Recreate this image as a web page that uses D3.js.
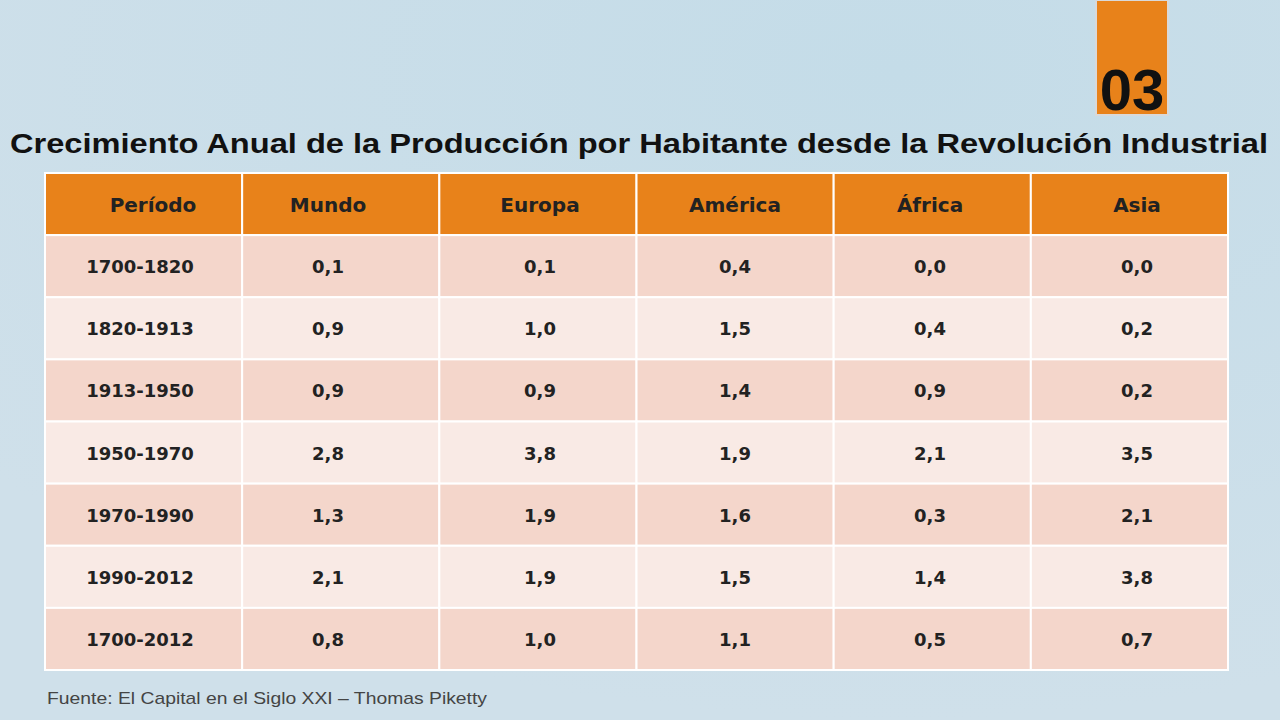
<!DOCTYPE html>
<html><head><meta charset="utf-8">
<script src="https://cdn.jsdelivr.net/npm/d3@7"></script>
<style>body{margin:0;overflow:hidden}</style>
</head><body>
<svg id="c" width="1280" height="720"></svg>
<script>
const headers = ["Período","Mundo","Europa","América","África","Asia"];
const periods = ["1700-1820","1820-1913","1913-1950","1950-1970","1970-1990","1990-2012","1700-2012"];
const mundo   = ["0,1","0,9","0,9","2,8","1,3","2,1","0,8"];
const europa  = ["0,1","1,0","0,9","3,8","1,9","1,9","1,0"];
const america = ["0,4","1,5","1,4","1,9","1,6","1,5","1,1"];
const africa  = ["0,0","0,4","0,9","2,1","0,3","1,4","0,5"];
const asia    = ["0,0","0,2","0,2","3,5","2,1","3,8","0,7"];
const cols = [periods, mundo, europa, america, africa, asia];

const svg = d3.select("#c");
const defs = svg.append("defs");
const g = defs.append("radialGradient").attr("id","bg").attr("cx","70%").attr("cy","10%").attr("r","90%");
g.append("stop").attr("offset","0%").attr("stop-color","#C4DCE8");
g.append("stop").attr("offset","100%").attr("stop-color","#CFE0EA");
svg.append("rect").attr("width",1280).attr("height",720).attr("fill","url(#bg)");

const x = d3.scaleBand().domain(d3.range(6)).range([45,1228]);
const y = d3.scaleBand().domain(d3.range(8)).range([173,670]);
const textX = [140,328,540,735,930,1137];

svg.selectAll(".h").data(headers).join("rect")
  .attr("x",(d,i)=>x(i)).attr("y",y(0)).attr("width",x.bandwidth()).attr("height",y.bandwidth())
  .attr("fill","#E8821A").attr("stroke","#fff").attr("stroke-width",2);
svg.selectAll(".ht").data(headers).join("text")
  .attr("x",(d,i)=>textX[i]+(i==0?13:0)).attr("y",y(0)+y.bandwidth()/2+8)
  .attr("text-anchor","middle").attr("font-family","DejaVu Sans, Arial").attr("font-weight","bold")
  .attr("font-size",20).attr("fill","#222").text(d=>d);

for (let r=0;r<7;r++){
  for (let c=0;c<6;c++){
    svg.append("rect").attr("x",x(c)).attr("y",y(r+1)).attr("width",x.bandwidth()).attr("height",y.bandwidth())
      .attr("fill", r%2==0?"#F4D6CB":"#F9EAE5").attr("stroke","#fff").attr("stroke-width",2);
    svg.append("text").attr("x",textX[c]).attr("y",y(r+1)+y.bandwidth()/2+7)
      .attr("text-anchor","middle").attr("font-family","DejaVu Sans, Arial").attr("font-weight","bold")
      .attr("font-size",18).attr("fill","#222").text(cols[c][r]);
  }
}

svg.append("rect").attr("x",1096).attr("y",0).attr("width",72).attr("height",115).attr("fill","#E8821A")
  .attr("stroke","#d9d9d9").attr("stroke-width",2);
svg.append("text").attr("x",1132).attr("y",110).attr("text-anchor","middle")
  .attr("font-family","Liberation Sans, Arial").attr("font-weight","bold").attr("font-size",58).attr("fill","#111").text("03");

svg.append("text").attr("x",10).attr("y",153)
  .attr("font-family","Liberation Sans, Arial").attr("font-weight","bold").attr("font-size",27).attr("fill","#111")
  .attr("textLength",1258).attr("lengthAdjust","spacingAndGlyphs")
  .text("Crecimiento Anual de la Producción por Habitante desde la Revolución Industrial");

svg.append("text").attr("x",47).attr("y",704)
  .attr("font-family","Liberation Sans, Arial").attr("font-size",17).attr("fill","#444")
  .attr("textLength",440).attr("lengthAdjust","spacingAndGlyphs")
  .text("Fuente: El Capital en el Siglo XXI – Thomas Piketty");
</script>
</body></html>
